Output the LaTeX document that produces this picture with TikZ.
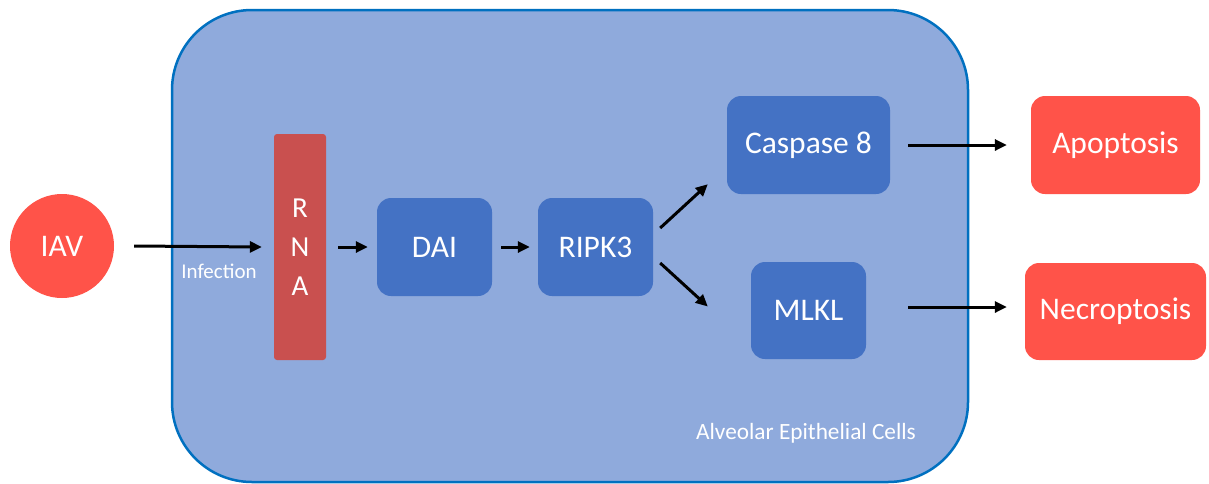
\documentclass[tikz,border=0pt]{standalone}
\usepackage{fontspec}
\setmainfont{Carlito}
\usetikzlibrary{arrows.meta}
\definecolor{cellfill}{HTML}{8FAADC}
\definecolor{celledge}{HTML}{0070C0}
\definecolor{boxblue}{HTML}{4472C4}
\definecolor{rnared}{HTML}{C9504F}
\definecolor{outred}{HTML}{FF5349}
\tikzset{
  bluebox/.style={fill=boxblue, draw=none, rounded corners=14pt, inner sep=0pt, text=white, font=\fontsize{31.5}{36}\selectfont},
  redbox/.style={fill=outred, draw=none, rounded corners=14pt, inner sep=0pt, text=white, font=\fontsize{31.5}{36}\selectfont},
  arr/.style={line width=3pt, -{Triangle[length=12pt,width=11pt]}},
}
\begin{document}
\begin{tikzpicture}[x=1pt,y=-1pt]
\useasboundingbox (0,0) rectangle (1209,483);
% cell
\draw[fill=cellfill, draw=celledge, line width=2.5pt, rounded corners=80pt] (172,10) rectangle (968,482);
\node[text=white, font=\fontsize{23.3}{27}\selectfont] (cells) at (806,433) {Alveolar Epithelial Cells};
% IAV
\node[circle, fill=outred, minimum size=104pt, inner sep=0pt, text=white, font=\fontsize{31.5}{36}\selectfont] (iav) at (62,246) {IAV};
% RNA
\node[fill=rnared, rounded corners=3pt, minimum width=52pt, minimum height=226pt, inner sep=0pt, text=white, align=center, font=\fontsize{29}{39}\selectfont] (rna) at (300,247) {R\\N\\A};
% blue boxes
\node[bluebox, minimum width=115pt, minimum height=98pt] (dai) at (434.5,247) {DAI};
\node[bluebox, minimum width=115pt, minimum height=98pt] (ripk) at (595.5,247) {RIPK3};
\node[bluebox, minimum width=163pt, minimum height=98pt] (casp) at (808.5,145) {Caspase 8};
\node[bluebox, minimum width=115pt, minimum height=97pt] (mlkl) at (808.5,310.5) {MLKL};
% outcomes
\node[redbox, minimum width=169pt, minimum height=98pt] (apo) at (1115.5,145) {Apoptosis};
\node[redbox, minimum width=181pt, minimum height=97pt] (necro) at (1115.5,311.5) {Necroptosis};
% arrows
\draw[arr] ([xshift=20pt]iav.east) -- ([xshift=-12pt]rna.west);
\node[text=white, font=\fontsize{21}{24}\selectfont] (inf) at (219,271) {Infection};
\draw[arr] ([xshift=12pt]rna.east) -- ([xshift=-9pt]dai.west);
\draw[arr] ([xshift=9pt]dai.east) -- ([xshift=-8pt]ripk.west);
\draw[arr] ([shift={(7,-19)}]ripk.east) -- ([shift={(-19,-10)}]casp.south west);
\draw[arr] ([shift={(7,16)}]ripk.east) -- ([shift={(-43,-4)}]mlkl.west);
\draw[arr] ([xshift=18pt]casp.east) -- ([xshift=-24pt]apo.west);
\draw[arr] ([shift={(42,-3.5)}]mlkl.east) -- ([shift={(-18,-4.5)}]necro.west);
\end{tikzpicture}
\end{document}
